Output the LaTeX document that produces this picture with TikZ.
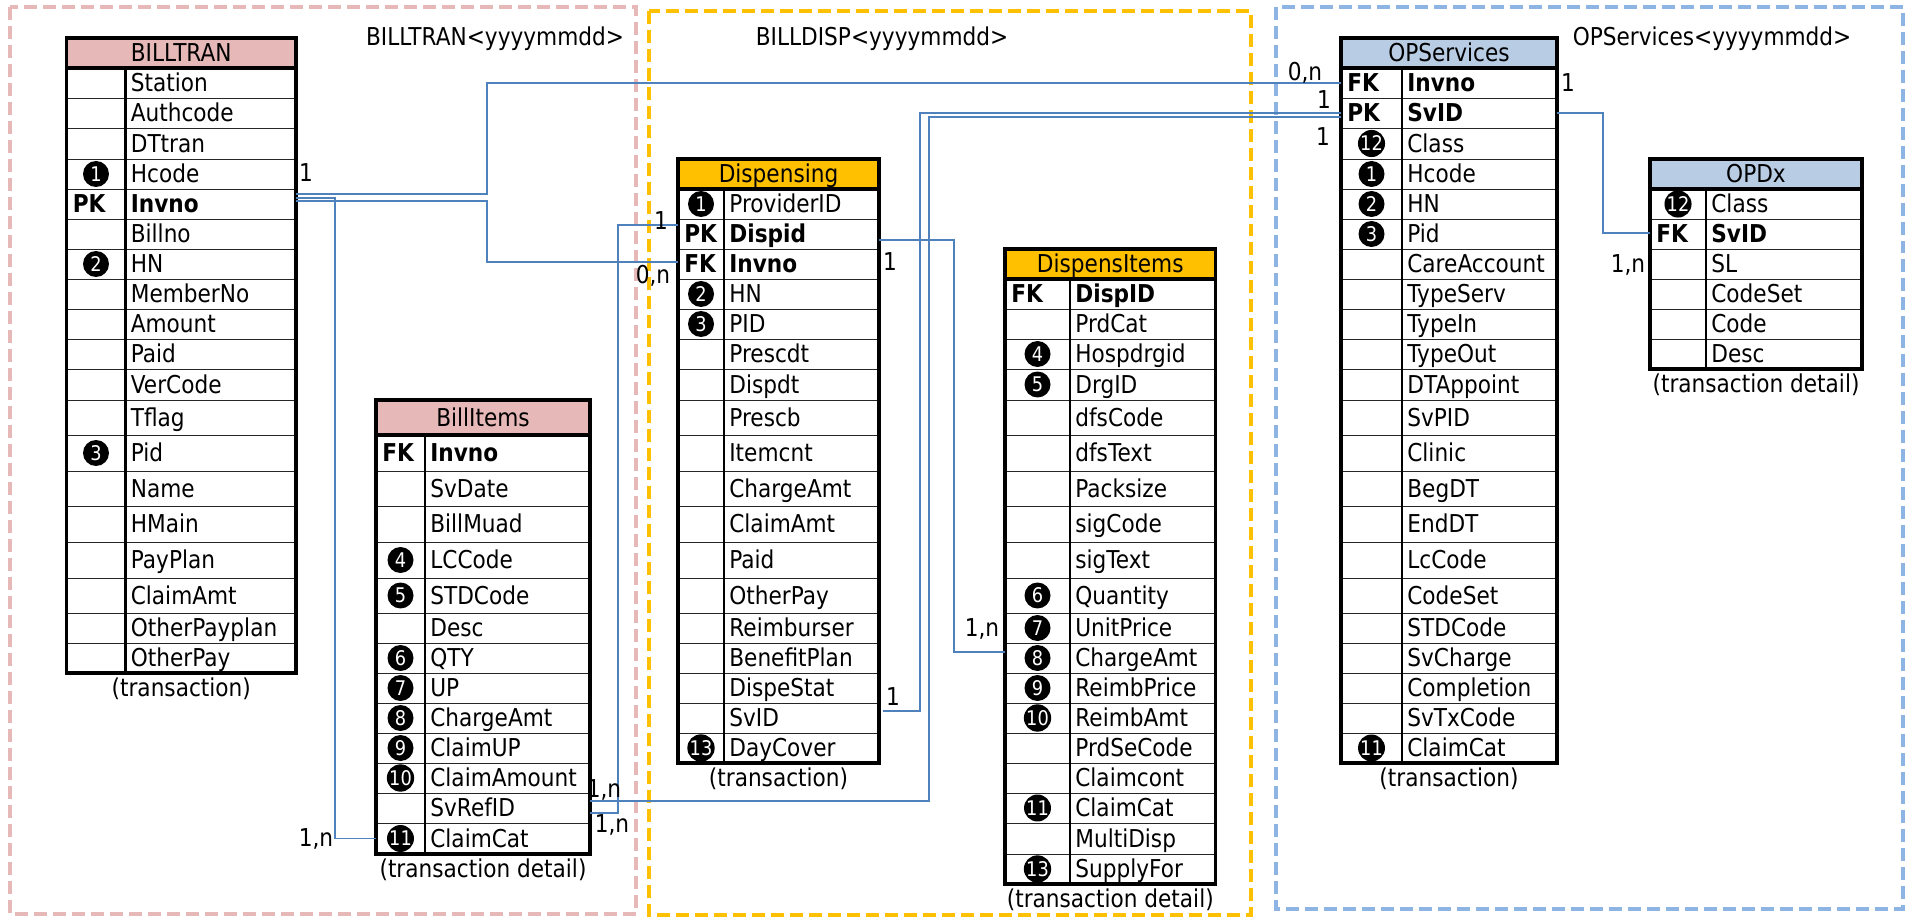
\documentclass[tikz,border=0pt]{standalone}
\usepackage{fontspec}
\setmainfont{DejaVu Sans}[FakeStretch=0.88]
\usetikzlibrary{calc,positioning}

\definecolor{hdrpink}{HTML}{E6B8B7}
\definecolor{hdryellow}{HTML}{FFC000}
\definecolor{hdrblue}{HTML}{B8CCE4}
\definecolor{boxpink}{HTML}{E6B9B8}
\definecolor{boxblue}{HTML}{8EB4E3}
\definecolor{linkblue}{HTML}{4F81BD}

\newcommand{\fnt}{\fontsize{14}{16}\selectfont}
% row lines of the sheet (px from top)
\def\gridy{{38,68,98,128,159,189,219,249,279,309,339,369,400,435,471,506,542,578,613,643,673,703,733,763,793,823,854,884}}
\def\keyK{k}
\def\keyC{c}

\tikzset{
  rowbox/.style={draw=black!85, line width=0.5pt, inner sep=0pt, outer sep=0pt},
  hdr/.style={inner sep=0pt, outer sep=0pt, font=\fnt, text height=10pt, text depth=0pt},
  fldtxt/.style={anchor=west, inner sep=0pt, font=\fnt, text height=10pt, text depth=0pt},
  keytxt/.style={fldtxt, font=\fnt\bfseries},
  badge/.style={circle, fill=black, text=white, inner sep=0pt, minimum size=0.52cm,
                font=\fontsize{11.5}{11.5}\selectfont},
  divline/.style={line width=1.2pt},
  tblframe/.style={line width=1.8pt},
  captxt/.style={font=\fnt, inner sep=1.5pt},
  card/.style={font=\fnt, inner sep=0pt, text height=10pt, text depth=0pt},
  grpbox/.style={line width=0.07cm, dash pattern=on 0.26cm off 0.12cm},
  grptitle/.style={font=\fnt, inner sep=0pt, text height=10pt, text depth=0pt},
  link/.style={draw=linkblue, line width=0.85pt}
}

% #1 name, #2 left, #3 divider, #4 right, #5 header row, #6 title, #7 fill, #8 caption, #9 rows
\newcommand{\erdtable}[9]{%
  \pgfmathsetmacro\hdt{\gridy[#5]}
  \pgfmathsetmacro\hdb{\gridy[#5+1]}
  \node[hdr, fill=#7, anchor=north west, minimum width={(#4-#2)*0.02cm},
        minimum height={(\hdb-\hdt)*0.02cm}] (#1h) at (#2,\hdt) {#6};
  \foreach \ky/\kl/\fld [count=\i] in {#9} {
    \pgfmathsetmacro\ya{\gridy[#5+\i]}
    \pgfmathsetmacro\yb{\gridy[#5+\i+1]}
    \pgfmathsetmacro\ym{(\ya+\yb)/2}
    \node[rowbox, anchor=north west, minimum width={(#4-#2)*0.02cm},
          minimum height={(\yb-\ya)*0.02cm}] (#1\i) at (#2,\ya) {};
    \ifx\ky\keyK
      \node[keytxt] (#1\i-k) at (#2+6,\ym) {\kl};
      \node[fldtxt] (#1\i-f) at (#3+5,\ym) {\bfseries\fld};
    \else
      \ifx\ky\keyC
        \node[badge] (#1\i-k) at ({(#2+#3)/2},\ym) {\kl};
      \fi
      \node[fldtxt] (#1\i-f) at (#3+5,\ym) {\fld};
    \fi
    \xdef\tbot{\yb}
    \xdef\lastrow{\i}
  }
  \draw[divline] (#3,\hdb) -- (#3,\tbot);
  \draw[tblframe] (#1h.north west) rectangle (#1\lastrow.south east);
  \draw[tblframe] (#1h.south west) -- (#1h.south east);
  \node[captxt, below=1pt of #1\lastrow] (#1c) {#8};
}

\begin{document}
\begin{tikzpicture}[x=0.02cm, y=-0.02cm]
  \useasboundingbox (0,0) rectangle (1906,918);

  % groups
  \draw[grpbox, draw=boxpink] (10,7) rectangle (636,914);
  \draw[grpbox, draw=hdryellow] (649,11) rectangle (1251,915);
  \draw[grpbox, draw=boxblue] (1276,7) rectangle (1903,909);

  \node[grptitle] (bttitle) at (495,37) {BILLTRAN<yyyymmdd>};
  \node[grptitle] (dstitle) at (882,37) {BILLDISP<yyyymmdd>};
  \node[grptitle] (opstitle) at (1712,37) {OPServices<yyyymmdd>};

  % tables
  \erdtable{bt}{66.5}{125.5}{296}{0}{BILLTRAN}{hdrpink}{(transaction)}{%
    n/-/Station,n/-/Authcode,n/-/DTtran,c/1/Hcode,k/PK/Invno,n/-/Billno,c/2/HN,
    n/-/MemberNo,n/-/Amount,n/-/Paid,n/-/VerCode,n/-/Tflag,c/3/Pid,n/-/Name,
    n/-/HMain,n/-/PayPlan,n/-/ClaimAmt,n/-/OtherPayplan,n/-/OtherPay}

  \erdtable{bi}{376}{425}{590}{12}{BillItems}{hdrpink}{(transaction detail)}{%
    k/FK/Invno,n/-/SvDate,n/-/BillMuad,c/4/LCCode,c/5/STDCode,n/-/Desc,c/6/QTY,
    c/7/UP,c/8/ChargeAmt,c/9/ClaimUP,c/10/ClaimAmount,n/-/SvRefID,c/11/ClaimCat}

  \erdtable{ds}{678}{724}{879}{4}{Dispensing}{hdryellow}{(transaction)}{%
    c/1/ProviderID,k/PK/Dispid,k/FK/Invno,c/2/HN,c/3/PID,n/-/Prescdt,n/-/Dispdt,
    n/-/Prescb,n/-/Itemcnt,n/-/ChargeAmt,n/-/ClaimAmt,n/-/Paid,n/-/OtherPay,
    n/-/Reimburser,n/-/BenefitPlan,n/-/DispeStat,n/-/SvID,c/13/DayCover}

  \erdtable{di}{1005}{1070}{1215.5}{7}{DispensItems}{hdryellow}{(transaction detail)}{%
    k/FK/DispID,n/-/PrdCat,c/4/Hospdrgid,c/5/DrgID,n/-/dfsCode,n/-/dfsText,
    n/-/Packsize,n/-/sigCode,n/-/sigText,c/6/Quantity,c/7/UnitPrice,c/8/ChargeAmt,
    c/9/ReimbPrice,c/10/ReimbAmt,n/-/PrdSeCode,n/-/Claimcont,c/11/ClaimCat,
    n/-/MultiDisp,c/13/SupplyFor}

  \erdtable{ops}{1341}{1402}{1557}{0}{OPServices}{hdrblue}{(transaction)}{%
    k/FK/Invno,k/PK/SvID,c/12/Class,c/1/Hcode,c/2/HN,c/3/Pid,n/-/CareAccount,
    n/-/TypeServ,n/-/TypeIn,n/-/TypeOut,n/-/DTAppoint,n/-/SvPID,n/-/Clinic,
    n/-/BegDT,n/-/EndDT,n/-/LcCode,n/-/CodeSet,n/-/STDCode,n/-/SvCharge,
    n/-/Completion,n/-/SvTxCode,c/11/ClaimCat}

  \erdtable{opdx}{1650}{1706}{1862}{4}{OPDx}{hdrblue}{(transaction detail)}{%
    c/12/Class,k/FK/SvID,n/-/SL,n/-/CodeSet,n/-/Code,n/-/Desc}

  % relations
  \draw[link] ($(bt5.east)+(0,-10)$) -- ++(191,0) |- (ops1.west);
  \draw[link] ($(bt5.east)+(0,-3)$) -- ++(191,0) |- ($(ds3.west)+(0,-2)$);
  \draw[link] ($(bt5.east)+(0,-6)$) -- ++(39,0) |- (bi13.west);
  \draw[link] ($(ds2.east)+(0,6)$) -- ++(75,0) |- ($(di12.west)+(0,-6)$);
  \draw[link] ($(ds17.east)+(4,-7)$) -- ++(37,0) |- (ops2.west);
  \draw[link] ($(bi12.east)+(0,-7)$) -- ++(339,0) |- ($(ops2.west)+(0,4)$);
  \draw[link] ($(bi12.east)+(0,5)$) -- ++(28,0) |- ($(ds2.west)+(0,-9)$);
  \draw[link] (ops2.east) -- ++(46,0) |- ($(opdx2.west)+(0,-1)$);

  \node[card] (c1) at (306,173) {1};
  \node[card] (c2) at (1305,72) {0,n};
  \node[card] (c3) at (1568,83) {1};
  \node[card] (c4) at (653,275) {0,n};
  \node[card] (c5) at (661,221) {1};
  \node[card] (c6) at (890,262) {1};
  \node[card] (c7) at (982,628) {1,n};
  \node[card] (c8) at (893,697) {1};
  \node[card] (c9) at (1324,100) {1};
  \node[card] (c10) at (1323,137) {1};
  \node[card] (c11) at (1628,264) {1,n};
  \node[card] (c12) at (316,838) {1,n};
  \node[card] (c13) at (604,789) {1,n};
  \node[card] (c14) at (612,824) {1,n};
\end{tikzpicture}
\end{document}
